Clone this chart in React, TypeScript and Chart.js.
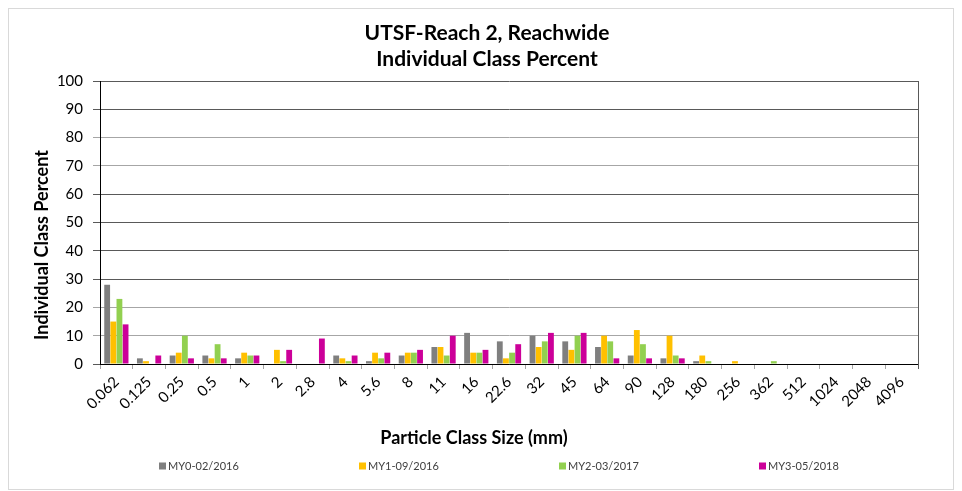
import React, { useEffect, useRef } from "react";
import { Chart, registerables } from "chart.js";

Chart.register(...registerables);

const categories = ["0.062", "0.125", "0.25", "0.5", "1", "2", "2.8", "4", "5.6", "8", "11", "16", "22.6", "32", "45", "64", "90", "128", "180", "256", "362", "512", "1024", "2048", "4096"];
const my0 = [28, 2, 3, 3, 2, 0, 0, 3, 1, 3, 6, 11, 8, 10, 8, 6, 3, 2, 1, 0, 0, 0, 0, 0, 0];
const my1 = [15, 1, 4, 2, 4, 5, 0, 2, 4, 4, 6, 4, 2, 6, 5, 10, 12, 10, 3, 1, 0, 0, 0, 0, 0];
const my2 = [23, 0, 10, 7, 3, 1, 0, 1, 2, 4, 3, 4, 4, 8, 10, 8, 7, 3, 1, 0, 1, 0, 0, 0, 0];
const my3 = [14, 3, 2, 2, 3, 5, 9, 3, 4, 5, 10, 5, 7, 11, 11, 2, 2, 2, 0, 0, 0, 0, 0, 0, 0];
const seriesLabels = ["MY0-02/2016", "MY1-09/2016", "MY2-03/2017", "MY3-05/2018"];
const seriesColors = ["#7f7f7f", "#ffc000", "#92d050", "#cc0099"];
const titleLines = ["UTSF-Reach 2, Reachwide", "Individual Class Percent"];
const xTitle = "Particle Class Size (mm)";
const yTitle = "Individual Class Percent";
const yMin = 0;
const yMax = 100;
const yStep = 10;

const FONT = "Lato, 'Open Sans', sans-serif";

const decorPlugin = {
  id: "decor",
  beforeDraw(chart: any) {
    const ctx = chart.ctx;
    ctx.save();
    ctx.fillStyle = "#ffffff";
    ctx.fillRect(0, 0, chart.width, chart.height);
    ctx.strokeStyle = "#d9d9d9";
    ctx.lineWidth = 1;
    ctx.strokeRect(8.5, 8.5, chart.width - 17, chart.height - 10);
    ctx.restore();
  },
  afterDraw(chart: any) {
    const ctx = chart.ctx;
    const area = chart.chartArea;
    ctx.save();
    // right border of plot area
    ctx.strokeStyle = "#595959";
    ctx.lineWidth = 1;
    ctx.beginPath();
    ctx.moveTo(Math.round(area.right) + 0.5, area.top);
    ctx.lineTo(Math.round(area.right) + 0.5, area.bottom + 5);
    ctx.stroke();

    // title
    ctx.fillStyle = "#000000";
    ctx.textAlign = "center";
    ctx.textBaseline = "middle";
    ctx.font = `bold 21px ${FONT}`;
    ctx.fillText(titleLines[0], 487, 33);
    ctx.fillText(titleLines[1], 487, 59);

    // axis titles
    ctx.font = `bold 18px ${FONT}`;
    ctx.fillText(xTitle, 474, 438);
    ctx.save();
    ctx.translate(42, 245);
    ctx.rotate(-Math.PI / 2);
    ctx.fillText(yTitle, 0, 0);
    ctx.restore();

    // legend
    ctx.font = `11px ${FONT}`;
    ctx.textAlign = "left";
    const startX = 159;
    const stepX = 200;
    const ly = 466;
    chart.data.datasets.forEach((ds: any, i: number) => {
      const x = startX + i * stepX;
      ctx.fillStyle = ds.backgroundColor;
      ctx.fillRect(x, ly - 3.5, 7, 7);
      ctx.fillStyle = "#404040";
      ctx.fillText(ds.label, x + 9, ly + 0.5);
    });
    ctx.restore();
  },
};

export default function App() {
  const canvasRef = useRef<HTMLCanvasElement | null>(null);

  useEffect(() => {
    if (!canvasRef.current) return;
    const series = [my0, my1, my2, my3];
    const chart = new Chart(canvasRef.current, {
      type: "bar",
      data: {
        labels: categories,
        datasets: series.map((d, i) => ({
          label: seriesLabels[i],
          data: d,
          backgroundColor: seriesColors[i],
          borderWidth: 0,
          categoryPercentage: 0.75,
          barPercentage: 0.95,
        })),
      },
      options: {
        responsive: false,
        animation: false,
        layout: { padding: { top: 81, left: 0, right: 44, bottom: 0 } },
        plugins: {
          legend: { display: false },
          title: { display: false },
          tooltip: { enabled: false },
        },
        scales: {
          x: {
            grid: {
              offset: true,
              drawOnChartArea: false,
              drawTicks: true,
              tickLength: 5,
              color: "#a6a6a6",
            },
            border: { color: "#000000", width: 1 },
            ticks: {
              minRotation: 45,
              maxRotation: 45,
              autoSkip: false,
              padding: 4,
              color: "#000000",
              font: { family: FONT, size: 15 },
            },
            afterFit(scale: any) {
              scale.height = 127;
            },
          },
          y: {
            min: yMin,
            max: yMax,
            grid: {
              color: (c: any) => {
                const v = c.tick ? c.tick.value : 0;
                return v === 10 || v === 20 || v === 70 || v === 80 ? "#a6a6a6" : "#595959";
              },
              tickLength: 7,
            },
            border: { color: "#000000", width: 1 },
            ticks: {
              stepSize: yStep,
              padding: 10,
              color: "#000000",
              font: { family: FONT, size: 15 },
            },
            afterFit(scale: any) {
              scale.width = 100;
            },
          },
        },
      },
      plugins: [decorPlugin],
    });
    return () => chart.destroy();
  }, []);

  return (
    <div style={{ position: "absolute", left: 0, top: 0, width: 962, height: 491 }}>
      <canvas ref={canvasRef} width={962} height={491} style={{ display: "block" }} />
    </div>
  );
}
